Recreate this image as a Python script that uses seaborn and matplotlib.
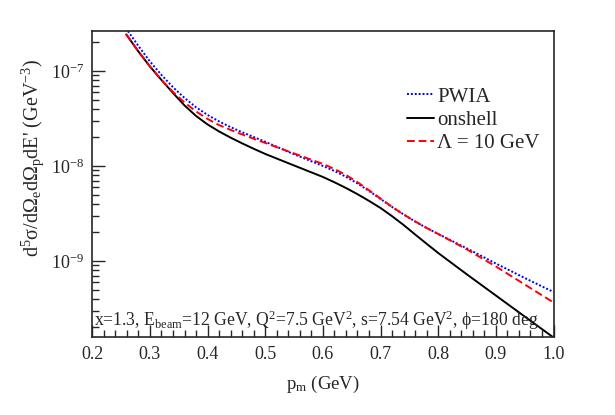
import numpy as np
import pandas as pd
import matplotlib
matplotlib.use("Agg")
import matplotlib.pyplot as plt
import matplotlib.ticker as mticker
import seaborn as sns

# ---- data ----
x_pwia = [0.258, 0.28, 0.30, 0.32, 0.34, 0.36, 0.38, 0.40, 0.42, 0.44, 0.46, 0.48,
          0.50, 0.55, 0.60, 0.62, 0.64, 0.66, 0.68, 0.70, 0.72, 0.74, 0.76, 0.78,
          0.80, 0.85, 0.90, 0.95, 1.00]
y_pwia = [2.835e-7, 1.833e-7, 1.259e-7, 9.077e-8, 6.738e-8, 5.196e-8, 4.148e-8,
          3.441e-8, 2.940e-8, 2.561e-8, 2.263e-8, 2.015e-8, 1.798e-8, 1.328e-8,
          1.000e-8, 8.859e-9, 7.697e-9, 6.544e-9, 5.456e-9, 4.494e-9, 3.703e-9,
          3.087e-9, 2.604e-9, 2.225e-9, 1.924e-9, 1.354e-9, 9.412e-10, 6.624e-10,
          4.718e-10]

x_onshell = [0.259, 0.28, 0.30, 0.32, 0.34, 0.36, 0.38, 0.40, 0.42, 0.44, 0.46, 0.48,
             0.50, 0.55, 0.60, 0.62, 0.64, 0.66, 0.68, 0.70, 0.72, 0.74, 0.76, 0.78,
             0.80, 0.85, 0.90, 0.95, 1.00]
y_onshell = [2.422e-7, 1.604e-7, 1.115e-7, 8.041e-8, 5.867e-8, 4.333e-8, 3.360e-8,
             2.734e-8, 2.307e-8, 1.986e-8, 1.729e-8, 1.517e-8, 1.338e-8, 1.012e-8,
             7.660e-9, 6.737e-9, 5.867e-9, 5.048e-9, 4.291e-9, 3.613e-9, 2.961e-9,
             2.393e-9, 1.901e-9, 1.517e-9, 1.214e-9, 7.212e-10, 4.333e-10, 2.604e-10,
             1.566e-10]

x_lam = [0.259, 0.28, 0.30, 0.32, 0.34, 0.36, 0.38, 0.40, 0.42, 0.44, 0.46, 0.48,
         0.50, 0.55, 0.60, 0.62, 0.64, 0.66, 0.68, 0.70, 0.72, 0.74, 0.76, 0.78,
         0.80, 0.85, 0.90, 0.95, 1.00]
y_lam = [2.422e-7, 1.604e-7, 1.115e-7, 8.041e-8, 6.010e-8, 4.661e-8, 3.748e-8,
         3.125e-8, 2.688e-8, 2.393e-8, 2.146e-8, 1.933e-8, 1.746e-8, 1.354e-8,
         1.050e-8, 9.299e-9, 8.041e-9, 6.754e-9, 5.549e-9, 4.538e-9, 3.703e-9,
         3.087e-9, 2.604e-9, 2.225e-9, 1.924e-9, 1.321e-9, 8.752e-10, 5.658e-10,
         3.658e-10]

labels = ["PWIA", "onshell", "Λ = 10 GeV"]
colors = ["#0000ff", "#000000", "#ff0000"]
x_ticks = [0.2, 0.3, 0.4, 0.5, 0.6, 0.7, 0.8, 0.9, 1.0]
annotation = (r"x=1.3, E$_{\rm beam}$=12 GeV, Q$^{2}$=7.5 GeV$^{2}$, "
              r"s=7.54 GeV$^{2}$, ϕ=180 deg")

df = pd.concat([
    pd.DataFrame({"pm": x_pwia, "xs": y_pwia, "model": labels[0]}),
    pd.DataFrame({"pm": x_onshell, "xs": y_onshell, "model": labels[1]}),
    pd.DataFrame({"pm": x_lam, "xs": y_lam, "model": labels[2]}),
])

sns.set_style("ticks")
plt.rcParams["font.family"] = ["Liberation Serif", "DejaVu Serif"]
plt.rcParams["mathtext.fontset"] = "custom"
plt.rcParams["mathtext.rm"] = "Liberation Serif"
plt.rcParams["mathtext.it"] = "Liberation Serif:italic"
plt.rcParams["mathtext.default"] = "regular"

fig = plt.figure(figsize=(6.15, 4.15), dpi=100)
ax = fig.add_axes([0.150, 0.187, 0.750, 0.739])

styles = {labels[0]: (0, (1, 1)), labels[1]: "-", labels[2]: (0, (4, 2))}
for lab, col in zip(labels, colors):
    sub = df[df["model"] == lab]
    sns.lineplot(data=sub, x="pm", y="xs", ax=ax, color=col, lw=1.4,
                 linestyle=styles[lab], label=lab, sort=False, estimator=None)

ax.set_yscale("log")
ax.set_xlim(0.2, 1.0)
ax.set_ylim(1.57e-10, 2.65e-7)
ax.set_xticks(x_ticks)
ax.set_xticklabels([f"{t:.1f}" for t in x_ticks])
ax.xaxis.set_minor_locator(mticker.MultipleLocator(0.02))
ax.yaxis.set_major_locator(mticker.FixedLocator([1e-9, 1e-8, 1e-7]))
ax.yaxis.set_major_formatter(mticker.LogFormatterMathtext())
ax.yaxis.set_minor_locator(mticker.LogLocator(base=10, subs=np.arange(2, 10), numticks=20))
ax.yaxis.set_minor_formatter(mticker.NullFormatter())
ax.tick_params(which="major", direction="in", length=9, width=1.0, labelsize=13,
               top=False, right=False, pad=6)
ax.tick_params(which="minor", direction="in", length=5, width=1.0, top=False, right=False)
for s in ax.spines.values():
    s.set_linewidth(1.2)

ax.set_xlabel("p$_{m}$ (GeV)", fontsize=13.5)
ax.set_ylabel("d$^{5}$σ/dΩ$_{e}$dΩ$_{p}$dE' (GeV$^{-3}$)", fontsize=14.5)
ax.yaxis.set_label_coords(-0.10, 0.585)
ax.xaxis.set_label_coords(0.5, -0.12)

ax.text(0.004, 0.055, annotation, transform=ax.transAxes, fontsize=12.7,
        ha="left", va="center")

leg = ax.legend(loc="upper left", bbox_to_anchor=(0.66, 0.85), frameon=False,
                fontsize=15, handlelength=1.3, handletextpad=0.15,
                labelspacing=0.18, borderpad=0.0)

fig.savefig("out.png", dpi=100)
